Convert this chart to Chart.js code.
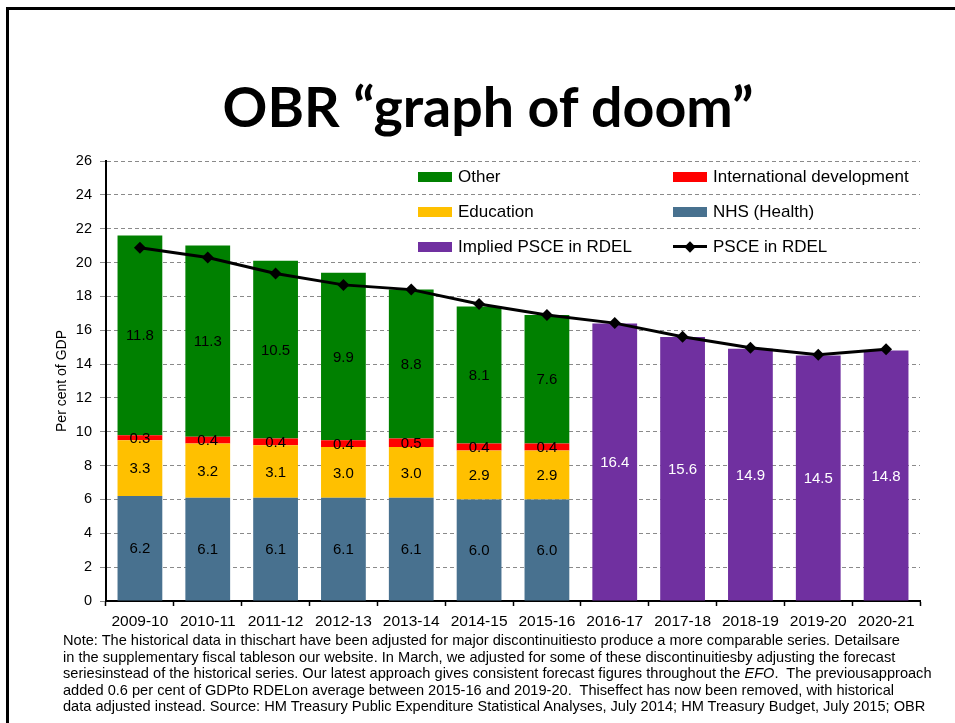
<!DOCTYPE html>
<html><head><meta charset="utf-8">
<script src="https://cdn.jsdelivr.net/npm/chart.js@4.4.1/dist/chart.umd.min.js"></script>
<style>
html,body{margin:0;padding:0;background:#fff;}
body{width:955px;height:723px;position:relative;overflow:hidden;font-family:"Liberation Sans",Arial,sans-serif;color:#000;}
#frame{position:absolute;left:6px;top:7px;width:1000px;height:800px;border:3px solid #000;box-sizing:border-box;}
#title{position:absolute;left:2px;width:972px;top:71px;text-align:center;font-family:Lato,"Open Sans",sans-serif;font-weight:bold;font-size:55.5px;line-height:70px;white-space:nowrap;}
#wrap{position:absolute;left:0;top:0;width:955px;height:640px;}
#legend{position:absolute;left:0;top:0;width:955px;height:0;}
.li{position:absolute;font-size:17px;line-height:20px;white-space:nowrap;}
.sw{position:absolute;width:34px;height:10px;}
#note{position:absolute;left:63px;top:632px;font-size:14.6px;line-height:16.5px;white-space:nowrap;}
</style></head>
<body>
<div id="frame"></div>
<div id="title">OBR “graph of doom”</div>
<div id="wrap"><canvas id="c" width="955" height="640"></canvas></div>
<div id="legend"></div>
<div id="note">Note: The historical data in thischart have been adjusted for major discontinuitiesto produce a more comparable series. Detailsare<br>in the supplementary fiscal tableson our website. In March, we adjusted for some of these discontinuitiesby adjusting the forecast<br>seriesinstead of the historical series. Our latest approach gives consistent forecast figures throughout the <i>EFO</i>.&nbsp; The previousapproach<br>added 0.6 per cent of GDPto RDELon average between 2015-16 and 2019-20.&nbsp; Thiseffect has now been removed, with historical<br>data adjusted instead. Source: HM Treasury Public Expenditure Statistical Analyses, July 2014; HM Treasury Budget, July 2015; OBR</div>
<script>
const categories = ['2009-10','2010-11','2011-12','2012-13','2013-14','2014-15','2015-16','2016-17','2017-18','2018-19','2019-20','2020-21'];
const nhs       = [6.2, 6.1, 6.1, 6.1, 6.1, 6.0, 6.0, null, null, null, null, null];
const education = [3.3, 3.2, 3.1, 3.0, 3.0, 2.9, 2.9, null, null, null, null, null];
const intDev    = [0.3, 0.4, 0.4, 0.4, 0.5, 0.4, 0.4, null, null, null, null, null];
const other     = [11.8, 11.3, 10.5, 9.9, 8.8, 8.1, 7.6, null, null, null, null, null];
const implied   = [null, null, null, null, null, null, null, 16.4, 15.6, 14.9, 14.5, 14.8];
const psce      = [20.87, 20.3, 19.35, 18.68, 18.4, 17.55, 16.9, 16.42, 15.62, 14.96, 14.55, 14.88];
const yTicks    = [0, 2, 4, 6, 8, 10, 12, 14, 16, 18, 20, 22, 24, 26];

const COL = {nhs:'#48718F', edu:'#FFC000', dev:'#FF0000', other:'#008000', implied:'#7030A0'};

Chart.defaults.font.family = '"Liberation Sans", Arial, sans-serif';
Chart.defaults.color = '#000';

const barLabels = {
  id: 'barLabels',
  afterDatasetsDraw(chart) {
    const ctx = chart.ctx;
    chart.data.datasets.forEach((ds, i) => {
      if (ds.type === 'line') return;
      const meta = chart.getDatasetMeta(i);
      meta.data.forEach((el, j) => {
        const v = ds.data[j];
        if (v == null) return;
        const p = el.getProps(['x', 'y', 'base'], true);
        ctx.save();
        ctx.font = '15px "Liberation Sans", Arial, sans-serif';
        ctx.fillStyle = ds.labelColor;
        ctx.textAlign = 'center';
        ctx.textBaseline = 'middle';
        ctx.fillText(v.toFixed(1), p.x, (p.y + p.base) / 2 + 1);
        ctx.restore();
      });
    });
  }
};

const barCommon = {type:'bar', barPercentage:0.66, categoryPercentage:1.0, borderWidth:0, order:1, stack:'s'};

const chart = new Chart(document.getElementById('c'), {
  data: {
    labels: categories,
    datasets: [
      {type:'line', label:'PSCE in RDEL', data:psce, borderColor:'#000', backgroundColor:'#000', borderWidth:3,
       pointStyle:'rectRot', pointRadius:6, pointHoverRadius:6, pointBackgroundColor:'#000', pointBorderColor:'#000', pointBorderWidth:0, tension:0, order:0, stack:'line'},
      Object.assign({label:'NHS (Health)', data:nhs, backgroundColor:COL.nhs, labelColor:'#000'}, barCommon),
      Object.assign({label:'Education', data:education, backgroundColor:COL.edu, labelColor:'#000'}, barCommon),
      Object.assign({label:'International development', data:intDev, backgroundColor:COL.dev, labelColor:'#000'}, barCommon),
      Object.assign({label:'Other', data:other, backgroundColor:COL.other, labelColor:'#000'}, barCommon),
      Object.assign({label:'Implied PSCE in RDEL', data:implied, backgroundColor:COL.implied, labelColor:'#fff'}, barCommon)
    ]
  },
  options: {
    responsive:false, animation:false,
    layout:{padding:{left:0, right:35, top:161, bottom:4}},
    plugins:{legend:{display:false}, tooltip:{enabled:false}, title:{display:false}},
    scales:{
      x:{
        stacked:true,
        grid:{display:true, drawOnChartArea:false, drawTicks:true, tickLength:5, tickColor:'#000', tickWidth:1.5, offset:true},
        border:{display:true, color:'#000', width:2},
        ticks:{font:{size:15.5}, padding:6, maxRotation:0, autoSkip:false, color:'#000'},
        afterFit(s){ s.height = 35; }
      },
      y:{
        stacked:true, min:0, max:26,
        afterBuildTicks(s){ s.ticks = yTicks.map(v => ({value:v})); },
        grid:{color:'#8a8a8a', lineWidth:1, drawTicks:true, tickLength:6, tickColor:'#8a8a8a', tickWidth:1},
        border:{display:true, color:'#000', width:2, dash:[4,3]},
        ticks:{font:{size:14.5}, padding:8, color:'#000'},
        title:{display:true, text:'Per cent of GDP', font:{size:14}, padding:{top:54, bottom:0}, color:'#000'},
        afterFit(s){ s.width = 106; }
      }
    }
  },
  plugins:[barLabels]
});

// HTML legend built from dataset definitions
const legendItems = [
  {label:'Other', color:COL.other, col:0, row:0},
  {label:'International development', color:COL.dev, col:1, row:0},
  {label:'Education', color:COL.edu, col:0, row:1},
  {label:'NHS (Health)', color:COL.nhs, col:1, row:1},
  {label:'Implied PSCE in RDEL', color:COL.implied, col:0, row:2},
  {label:'PSCE in RDEL', color:null, col:1, row:2}
];
const colX = [418, 673], rowY = [177, 212, 246.5];
const lg = document.getElementById('legend');
legendItems.forEach(it => {
  const x = colX[it.col], y = rowY[it.row];
  if (it.color) {
    const s = document.createElement('div');
    s.className = 'sw'; s.style.left = x + 'px'; s.style.top = (y - 5) + 'px'; s.style.background = it.color;
    lg.appendChild(s);
  } else {
    const s = document.createElement('div');
    s.style.cssText = 'position:absolute;left:'+x+'px;top:'+(y-1.25)+'px;width:34px;height:2.5px;background:#000;';
    lg.appendChild(s);
    const d = document.createElement('div');
    d.style.cssText = 'position:absolute;left:'+(x+13)+'px;top:'+(y-4)+'px;width:8px;height:8px;background:#000;transform:rotate(45deg);';
    lg.appendChild(d);
  }
  const t = document.createElement('div');
  t.className = 'li'; t.textContent = it.label;
  t.style.left = (x + 40) + 'px'; t.style.top = (y - 10) + 'px';
  lg.appendChild(t);
});
</script>
</body></html>
